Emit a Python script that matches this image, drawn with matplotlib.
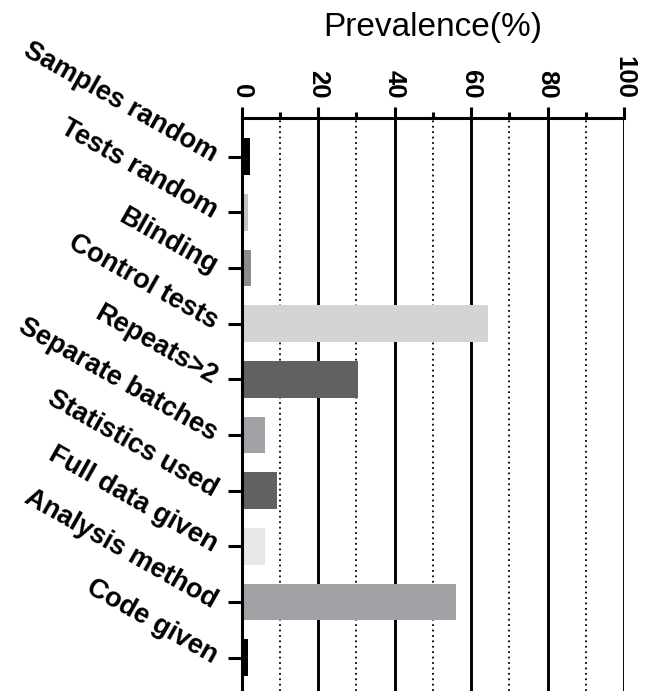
"""Prevalence of reporting practices, horizontal bar chart."""
import matplotlib
matplotlib.use("Agg")
import matplotlib.pyplot as plt
from matplotlib.ticker import MultipleLocator

plt.rcParams['font.family'] = ['Liberation Sans', 'DejaVu Sans']

categories = ["Samples random", "Tests random", "Blinding", "Control tests",
              "Repeats>2", "Separate batches", "Statistics used",
              "Full data given", "Analysis method", "Code given"]
prevalence = [2.2, 1.5, 2.5, 64.5, 30.5, 6.0, 9.3, 6.0, 56.0, 1.7]
bar_colors = ["#000000", "#c4c4c4", "#8c8c8c", "#d4d4d4", "#616161",
              "#a2a1a6", "#616161", "#e8e8e8", "#a2a1a6", "#000000"]
x_ticks = [0, 20, 40, 60, 80, 100]

fig = plt.figure(figsize=(6.5, 6.91), dpi=100)
ax = fig.add_axes([0.372, 0.0, 0.588, 0.829])

pos = list(range(len(categories)))
ax.barh(pos, prevalence, height=0.66, color=bar_colors, zorder=3)

ax.set_xlim(0, 100)
ax.set_ylim(9.6, -0.69)

# value axis sits on top
ax.xaxis.tick_top()
ax.xaxis.set_label_position('top')
ax.set_xticks(x_ticks)
ax.set_xticklabels([str(t) for t in x_ticks], rotation=-90,
                   fontsize=18.5, fontweight='bold')
ax.xaxis.set_minor_locator(MultipleLocator(10))
ax.tick_params(axis='x', which='major', direction='out', length=8,
               width=2.2, pad=6)
ax.tick_params(axis='x', which='minor', direction='out', length=4,
               width=2.2)
ax.set_xlabel("Prevalence(%)", fontsize=24, labelpad=14)

ax.grid(axis='x', which='major', color='black', linewidth=2.1, zorder=1)
ax.grid(axis='x', which='minor', color='black', linewidth=1.3,
        linestyle=(0, (1, 2)), zorder=1)

ax.set_yticks(pos)
ax.set_yticklabels(categories, rotation=-29.5, ha='right', va='center',
                   rotation_mode='anchor', fontsize=19.5, fontweight='bold')
ax.tick_params(axis='y', direction='out', length=10, width=2.2, pad=9)

for side in ['right', 'bottom']:
    ax.spines[side].set_visible(False)
for side in ['left', 'top']:
    ax.spines[side].set_linewidth(2.2)
    ax.spines[side].set_zorder(4)

fig.savefig("out.png", dpi=100)
